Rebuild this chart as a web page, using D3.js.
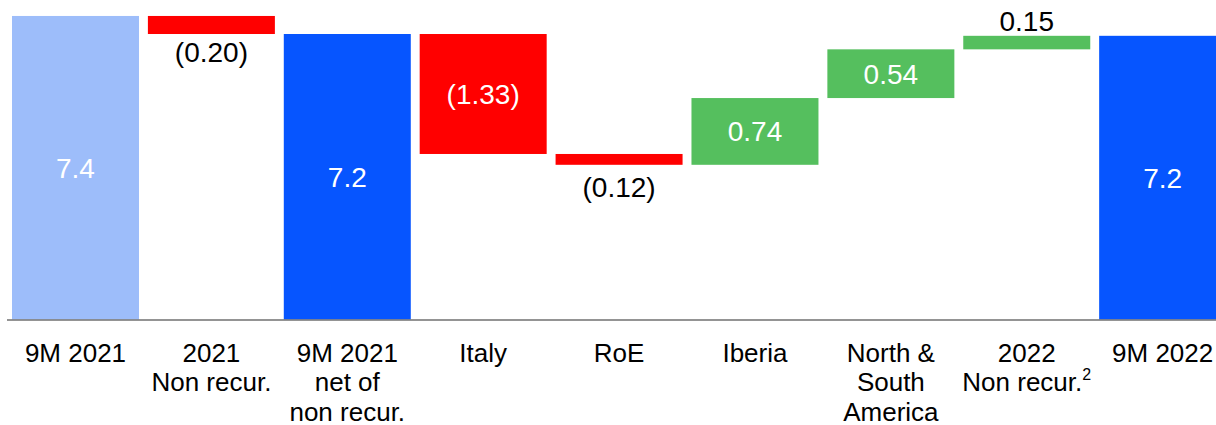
<!DOCTYPE html>
<html>
<head>
<meta charset="utf-8">
<script src="https://cdn.jsdelivr.net/npm/d3@7"></script>
<style>
  html, body { margin: 0; padding: 0; background: #fff; }
  svg { display: block; font-family: "Liberation Sans", Arial, sans-serif; }
</style>
</head>
<body>
<svg id="chart" width="1216" height="425"></svg>
<script>
// Waterfall: 9M 2021 -> 9M 2022 bridge
const categories = [
  ["9M 2021"],
  ["2021", "Non recur."],
  ["9M 2021", "net of", "non recur."],
  ["Italy"],
  ["RoE"],
  ["Iberia"],
  ["North &", "South", "America"],
  ["2022", "Non recur."],
  ["9M 2022"]
];
const footnotes = ["", "", "", "", "", "", "", "2", ""];
const kinds  = ["start", "delta", "total", "delta", "delta", "delta", "delta", "delta", "total"];
const values = [7.4, -0.20, 7.2, -1.33, -0.12, 0.74, 0.54, 0.15, 7.18];

const W = 1216, H = 425;
const svg = d3.select("#chart");

const colors = {
  start: "#9DBDFA",
  total: "#0655FF",
  up: "#55BF5E",
  down: "#FF0000"
};

// build bar extents from running sum
let running = 0;
const bars = values.map((v, i) => {
  let y0, y1, color;
  if (kinds[i] === "delta") {
    y0 = running; y1 = running + v; running = y1;
    color = v < 0 ? colors.down : colors.up;
  } else {
    y0 = null; y1 = v; running = v;
    color = kinds[i] === "start" ? colors.start : colors.total;
  }
  return { i, v, kind: kinds[i], y0, y1, color };
});

const x = d3.scaleBand()
  .domain(d3.range(categories.length))
  .range([7.55, 1230.6])
  .paddingInner(0.0655)
  .paddingOuter(0.03275);

const baseY = 319.5;
const y = d3.scaleLinear().domain([4.035, 7.577]).range([baseY, 0]);

const g = svg.append("g");

g.selectAll("rect.bar")
  .data(bars)
  .join("rect")
  .attr("class", "bar")
  .attr("x", d => x(d.i))
  .attr("width", x.bandwidth())
  .attr("y", d => d.kind === "delta" ? y(Math.max(d.y0, d.y1)) : y(d.y1))
  .attr("height", d => d.kind === "delta"
      ? Math.abs(y(d.y0) - y(d.y1))
      : baseY - y(d.y1))
  .attr("fill", d => d.color);

// value labels
const fmtDelta = v => v < 0 ? "(" + d3.format(".2f")(-v) + ")" : d3.format(".2f")(v);
const fmtTotal = d3.format(".1f");

g.selectAll("text.val")
  .data(bars)
  .join("text")
  .attr("class", "val")
  .attr("text-anchor", "middle")
  .attr("font-size", 28)
  .each(function(d) {
    const cx = x(d.i) + x.bandwidth() / 2;
    const top = d.kind === "delta" ? y(Math.max(d.y0, d.y1)) : y(d.y1);
    const bottom = d.kind === "delta" ? y(Math.min(d.y0, d.y1)) : baseY;
    const mid = (top + bottom) / 2;
    const h = bottom - top;
    const t = d3.select(this).attr("x", cx)
      .text(d.kind === "delta" ? fmtDelta(d.v) : fmtTotal(d.v));
    if (h >= 30) {
      t.attr("y", mid + 10).attr("fill", "#fff");
    } else if (d.v < 0) {
      t.attr("y", mid + 37.5).attr("fill", "#000");
    } else {
      t.attr("y", top - 5).attr("fill", "#000");
    }
  });

// baseline
svg.append("line")
  .attr("x1", 7).attr("x2", W)
  .attr("y1", 320).attr("y2", 320)
  .attr("stroke", "#707070")
  .attr("stroke-width", 1.5);

// category labels
const labels = svg.append("g");
categories.forEach((lines, i) => {
  const cx = x(i) + x.bandwidth() / 2;
  const t = labels.append("text")
    .attr("text-anchor", "middle")
    .attr("font-size", 26)
    .attr("fill", "#000");
  lines.forEach((line, j) => {
    const ts = t.append("tspan")
      .attr("x", cx)
      .attr("y", 361.5 + j * 29.5)
      .text(line);
    if (j === lines.length - 1 && footnotes[i]) {
      ts.append("tspan")
        .attr("font-size", 16)
        .attr("dy", -11)
        .text(footnotes[i]);
    }
  });
});
</script>
</body>
</html>
